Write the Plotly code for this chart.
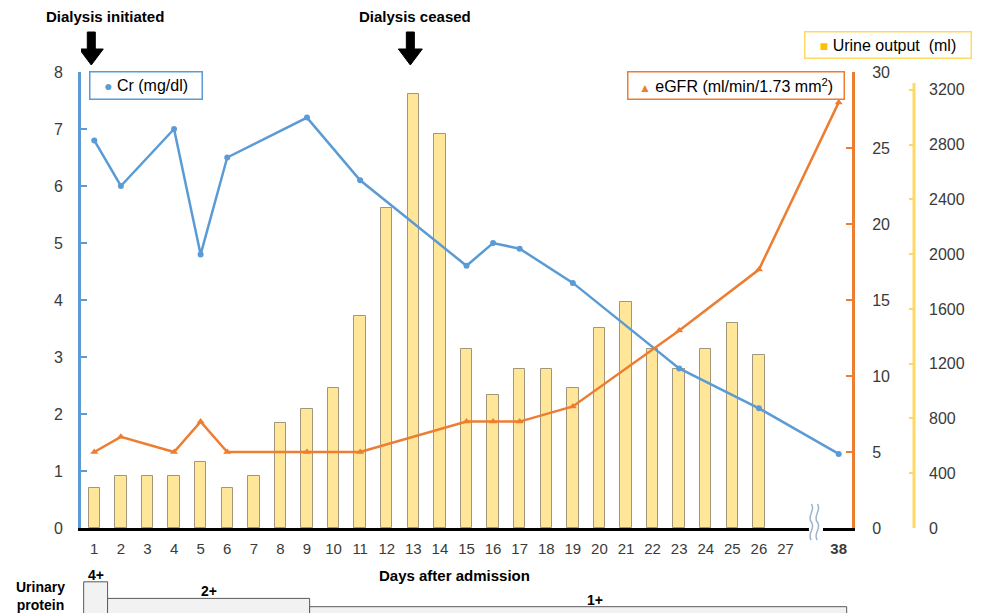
import plotly.graph_objects as go

# ---------------- data ----------------
bar_days = list(range(1, 27))
urine_ml = [290, 380, 380, 380, 480, 290, 380, 770, 870, 1020, 1550, 2340, 3170,
            2880, 1310, 970, 1160, 1160, 1020, 1460, 1650, 1310, 1160, 1310, 1500, 1260]

lab_days = [1, 2, 4, 5, 6, 9, 11, 15, 16, 17, 19, 23, 26, 38]
cr_mgdl = [6.8, 6.0, 7.0, 4.8, 6.5, 7.2, 6.1, 4.6, 5.0, 4.9, 4.3, 2.8, 2.1, 1.3]
egfr = [5.0, 6.0, 5.0, 7.0, 5.0, 5.0, 5.0, 7.0, 7.0, 7.0, 8.0, 13.0, 17.0, 28.0]

tick_days = list(range(1, 28)) + [38]

protein_levels = ["4+", "2+", "1+"]
protein_units = [4, 2, 1]
protein_start = [0.6, 1.5, 9.1]
protein_end = [1.5, 9.1, 29.3]

dialysis_days = [1, 13]
dialysis_labels = ["Dialysis initiated", "Dialysis ceased"]

# ---------------- styling ----------------
BLUE = "#5B9BD5"
ORANGE = "#ED7D31"
YELLOW = "#FFD966"
BARFILL = "#FFE699"
FONT = "Liberation Sans, Arial, sans-serif"
TICKCOL = "#3a3a3a"

W, H = 981, 613
ML, MR, MT, MB = 81, 40, 72, 85
PW, PH = W - ML - MR, H - MT - MB


def pos(d):
    # axis break: days after 27 are drawn just past the break
    return d if d <= 27 else 29


def px(x):
    return (x - ML) / PW


def py(y):
    return (H - MB - y) / PH


fig = go.Figure()

fig.add_trace(go.Bar(
    x=[pos(d) for d in bar_days], y=urine_ml, yaxis="y", width=0.43,
    marker=dict(color=BARFILL, line=dict(color="rgba(130,120,95,0.75)", width=1)),
    showlegend=False, hoverinfo="x+y"))

fig.add_trace(go.Scatter(
    x=[pos(d) for d in lab_days], y=cr_mgdl, yaxis="y2", mode="lines+markers",
    line=dict(color=BLUE, width=2.5), marker=dict(color=BLUE, size=6),
    showlegend=False, cliponaxis=False))

fig.add_trace(go.Scatter(
    x=[pos(d) for d in lab_days], y=egfr, yaxis="y3", mode="lines+markers",
    line=dict(color=ORANGE, width=2.5),
    marker=dict(color=ORANGE, size=7, symbol="triangle-up"),
    showlegend=False, cliponaxis=False))

x_dom_end = px(852)
yellow_pos = px(914)

fig.update_layout(
    width=W, height=H,
    margin=dict(l=ML, r=MR, t=MT, b=MB),
    paper_bgcolor="white", plot_bgcolor="white",
    font=dict(family=FONT, size=15, color=TICKCOL),
    bargap=0,
    xaxis=dict(
        domain=[0, x_dom_end], range=[0.5, 29.5],
        tickvals=[pos(d) for d in tick_days],
        ticktext=[str(d) if d <= 27 else "<b>%d</b>" % d for d in tick_days],
        tickfont=dict(size=15, color=TICKCOL),
        showline=True, linecolor="black", linewidth=3,
        ticks="", ticklabelstandoff=5,
        showgrid=False, zeroline=False),
    yaxis=dict(
        anchor="free", position=yellow_pos, side="right",
        range=[0, 3330], tickvals=list(range(0, 3201, 400)),
        ticks="inside", ticklen=5, tickwidth=2, tickcolor=YELLOW,
        showline=False, showgrid=False, zeroline=False,
        tickfont=dict(size=16, color=TICKCOL), ticklabelstandoff=14),
    yaxis2=dict(
        overlaying="y", side="left", anchor="x",
        range=[0, 8], dtick=1,
        showline=True, linecolor=BLUE, linewidth=3,
        ticks="inside", ticklen=6, tickwidth=2, tickcolor=BLUE,
        showgrid=False, zeroline=False,
        tickfont=dict(size=16, color=TICKCOL), ticklabelstandoff=12),
    yaxis3=dict(
        overlaying="y", side="right", anchor="x",
        range=[0, 30], dtick=5,
        showline=True, linecolor=ORANGE, linewidth=3,
        ticks="inside", ticklen=6, tickwidth=2, tickcolor=ORANGE,
        showgrid=False, zeroline=False,
        tickfont=dict(size=16, color=TICKCOL), ticklabelstandoff=14),
)

shapes = []
# yellow axis line
shapes.append(dict(type="line", xref="paper", yref="y", x0=yellow_pos, x1=yellow_pos,
                   y0=0, y1=3250, line=dict(color=YELLOW, width=3)))
# x-axis break
shapes.append(dict(type="rect", xref="x", yref="paper", x0=27.88, x1=28.41,
                   y0=-0.009, y1=0.009, fillcolor="white", line=dict(width=0),
                   layer="above"))
for off in (-4, 2):
    shapes.append(dict(
        type="path", xref="x", yref="paper", xsizemode="pixel", ysizemode="pixel",
        xanchor=28.12, yanchor=0,
        path="M {a},24 C {b},18 {c},12 {a},6 C {b},0 {c},-6 {a},-12".format(
            a=off, b=off + 5, c=off - 5),
        line=dict(color="#9DB5CC", width=1.5), layer="above"))
# dialysis arrows
for d in dialysis_days:
    shapes.append(dict(
        type="path", xref="x", yref="paper", xsizemode="pixel", ysizemode="pixel",
        xanchor=d, yanchor=1,
        path="M -7,40 L 1,40 L 1,23 L 9,23 L -3,7 L -15,23 L -7,23 Z",
        fillcolor="black", line=dict(color="black", width=1)))
# urinary protein step boxes
unit_h = 8.3 / PH
base_y = py(615)
for lvl, u, s, e in zip(protein_levels, protein_units, protein_start, protein_end):
    shapes.append(dict(type="rect", xref="x", yref="paper", x0=s, x1=e,
                       y0=base_y, y1=base_y + u * unit_h,
                       fillcolor="#F2F2F2", line=dict(color="#595959", width=1)))
fig.update_layout(shapes=shapes)

ann = []
label_shift = [0, 0, 17]
for lvl, u, s, e, sh in zip(protein_levels, protein_units, protein_start, protein_end, label_shift):
    ann.append(dict(text="<b>%s</b>" % lvl, xref="x", yref="paper",
                    x=(s + e) / 2, y=base_y + u * unit_h, xshift=sh,
                    yanchor="bottom", yshift=-3, showarrow=False,
                    font=dict(size=14, color="black")))

ann.append(dict(text="<b>Urinary<br>protein</b>", xref="paper", yref="paper",
                x=px(40), y=py(596), xanchor="center", yanchor="middle",
                showarrow=False, font=dict(size=14, color="black")))
ann.append(dict(text="<b>Days after admission</b>", xref="paper", yref="paper",
                x=px(454), y=py(575), xanchor="center", yanchor="middle",
                showarrow=False, font=dict(size=15, color="black")))
for lbl, cx in zip(dialysis_labels, [105, 415]):
    ann.append(dict(text="<b>%s</b>" % lbl, xref="paper", yref="paper",
                    x=px(cx), y=py(17), xanchor="center", yanchor="middle",
                    showarrow=False, font=dict(size=15, color="black")))


def legend_box(text, left, top, w, h, color):
    return dict(text=text, xref="paper", yref="paper", x=px(left), y=py(top),
                xanchor="left", yanchor="top", showarrow=False,
                width=w - 5, height=h - 5, borderpad=1, bordercolor=color,
                borderwidth=1.5, bgcolor="white", align="center", valign="middle",
                font=dict(size=16, color="black"))


ann.append(legend_box('<span style="color:%s;font-size:14px">●</span> Cr (mg/dl)' % BLUE,
                      89, 71, 114, 29, BLUE))
ann.append(legend_box('<span style="color:%s;font-size:12px">▲</span> eGFR (ml/min/1.73 mm<sup>2</sup>)' % ORANGE,
                      627, 71, 218, 29, ORANGE))
ann.append(legend_box('<span style="color:#FFC000;font-size:14px">■</span> Urine output  (ml)',
                      804, 31, 168, 28, YELLOW))
fig.update_layout(annotations=ann)

fig.write_html("out.html", config={"displayModeBar": False},
               post_script="document.body.style.margin='0';")
